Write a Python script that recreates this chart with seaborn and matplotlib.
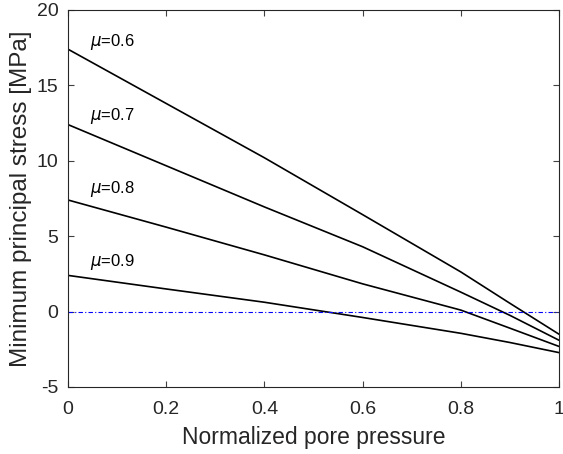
import pandas as pd
import seaborn as sns
import matplotlib.pyplot as plt

# values
pore_pressure = [0.0, 0.2, 0.4, 0.6, 0.8, 0.9, 1.0]
mu_values = ["0.6", "0.7", "0.8", "0.9"]
stress_mu06 = [17.4, 13.8, 10.2, 6.43, 2.63, 0.55, -1.5]
stress_mu07 = [12.4, 9.67, 6.94, 4.3, 1.29, -0.25, -1.9]
stress_mu08 = [7.4, 5.6, 3.76, 1.84, 0.1, -1.1, -2.31]
stress_mu09 = [2.4, 1.5, 0.62, -0.39, -1.44, -2.05, -2.72]
label_y = [17.9, 13.0, 8.1, 3.3]

series = [stress_mu06, stress_mu07, stress_mu08, stress_mu09]
rows = []
for mu, vals in zip(mu_values, series):
    for x, y in zip(pore_pressure, vals):
        rows.append({"pp": x, "stress": y, "mu": mu})
df = pd.DataFrame(rows)

# MATLAB-like look: box on, ticks pointing inward on all four sides
sns.set_style("ticks", {"xtick.direction": "in", "ytick.direction": "in",
                        "xtick.top": True, "ytick.right": True})
plt.rcParams["font.family"] = ["Liberation Sans", "DejaVu Sans"]
plt.rcParams["axes.edgecolor"] = "#262626"
plt.rcParams["axes.unicode_minus"] = False

fig = plt.figure(figsize=(5.63, 4.54), dpi=100)
ax = fig.add_axes([0.1208, 0.1476, 0.8721, 0.8304])

sns.lineplot(data=df, x="pp", y="stress", hue="mu",
             palette=["black"] * 4, legend=False, linewidth=1.2, ax=ax)
ax.axhline(0, color="#0000ff", linewidth=0.8, linestyle=(0, (4, 2, 1, 2)))

for mu, ly in zip(mu_values, label_y):
    ax.text(0.045, ly, r"$\mu$=" + mu, fontsize=12, va="center", ha="left",
            color="black")

ax.set_xlim(0, 1)
ax.set_ylim(-5, 20)
ax.set_xticks([0, 0.2, 0.4, 0.6, 0.8, 1])
ax.set_xticklabels(["0", "0.2", "0.4", "0.6", "0.8", "1"])
ax.set_yticks([-5, 0, 5, 10, 15, 20])
ax.tick_params(direction="in", length=4.5, width=0.8, color="#404040",
               labelcolor="#262626", labelsize=14,
               bottom=True, left=True, top=True, right=True, pad=7)
ax.tick_params(axis="x", pad=10)
for s in ax.spines.values():
    s.set_visible(True)
    s.set_linewidth(0.8)
ax.set_xlabel("Normalized pore pressure", fontsize=16.5, color="#262626", labelpad=6)
ax.set_ylabel("Minimum principal stress [MPa]", fontsize=17.5, color="#262626", labelpad=3)

fig.savefig("out.png", dpi=100)
